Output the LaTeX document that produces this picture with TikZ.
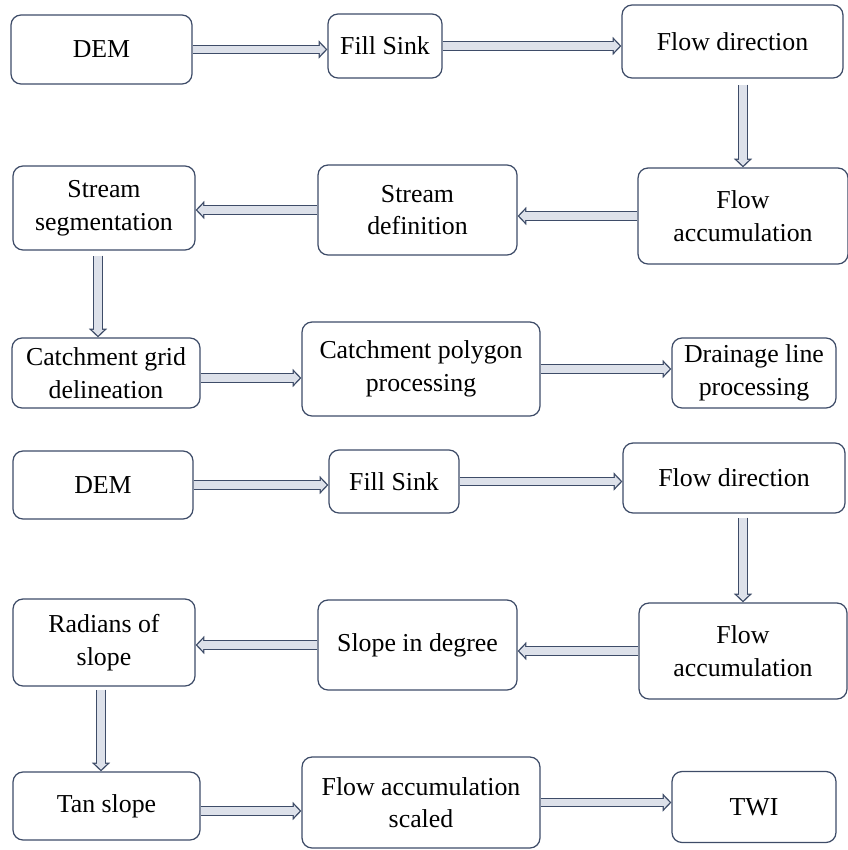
\documentclass[tikz,border=0pt]{standalone}
\usepackage{fontspec}
\setmainfont{Liberation Serif}
\usepackage{xcolor}
\usepackage{tikz}
\usetikzlibrary{arrows.meta,positioning}
\definecolor{boxline}{RGB}{62,76,104}
\definecolor{arrowfill}{RGB}{221,225,234}

\begin{document}
\begin{tikzpicture}[x=0.02cm,y=-0.02cm,
        box/.style={draw=boxline,line width=0.7pt,rounded corners=0.2cm,align=center,inner sep=0pt,
            font=\fontsize{14.7}{18.5}\selectfont},
        flow/.style={draw=boxline,line width=5.6pt,-{Triangle[length=5pt,width=10.5pt,line width=0pt]},
            postaction={draw=arrowfill,line width=4.1pt,-{Triangle[length=3.3pt,width=6.9pt,line width=0pt]},shorten >=1.05pt}}]
        \useasboundingbox (0,0) rectangle (848,850);
        % first chain
        \node[box,minimum width=3.62cm,minimum height=1.38cm] (dem1) at (101.5,49.5) {DEM};
        \node[box,minimum width=2.28cm,minimum height=1.28cm] (sink1) at (385,46) {Fill Sink};
        \node[box,minimum width=4.42cm,minimum height=1.46cm] (dir1) at (732.5,41.5) {Flow direction};
        \node[box,minimum width=4.20cm,minimum height=1.92cm] (acc1) at (743,216) {Flow\\accumulation};
        \node[box,minimum width=3.98cm,minimum height=1.80cm] (sdef) at (417.5,210) {Stream\\definition};
        \node[box,minimum width=3.64cm,minimum height=1.68cm] (sseg) at (104,208) {Stream\\segmentation};
        \node[box,minimum width=3.76cm,minimum height=1.40cm] (cgrid) at (106,373) {Catchment grid\\delineation};
        \node[box,minimum width=4.76cm,minimum height=1.88cm] (cpoly) at (421,369) {Catchment polygon\\processing};
        \node[box,minimum width=3.28cm,minimum height=1.40cm] (dline) at (754,373) {Drainage line\\processing};
        % second chain
        \node[box,minimum width=3.60cm,minimum height=1.36cm] (dem2) at (103,485) {DEM};
        \node[box,minimum width=2.60cm,minimum height=1.26cm] (sink2) at (394,481.5) {Fill Sink};
        \node[box,minimum width=4.44cm,minimum height=1.40cm] (dir2) at (734,478) {Flow direction};
        \node[box,minimum width=4.16cm,minimum height=1.92cm] (acc2) at (743,651) {Flow\\accumulation};
        \node[box,minimum width=3.98cm,minimum height=1.80cm] (sdeg) at (417.5,645) {Slope in degree};
        \node[box,minimum width=3.64cm,minimum height=1.74cm] (rad) at (104,642.5) {Radians of\\slope};
        \node[box,minimum width=3.74cm,minimum height=1.36cm] (tan) at (106.5,806) {Tan slope};
        \node[box,minimum width=4.76cm,minimum height=1.82cm] (fscale) at (421,802.5) {Flow accumulation\\scaled};
        \node[box,minimum width=3.28cm,minimum height=1.42cm] (twi) at (754,807) {TWI};

        \draw[flow] (dem1) -- (dem1 -| sink1.west);
        \draw[flow] (sink1) -- (sink1 -| dir1.west);
        \draw[flow] ([yshift=-0.12cm]dir1.south -| acc1) -- (acc1);
        \draw[flow] (acc1) -- (acc1 -| sdef.east);
        \draw[flow] (sdef) -- (sdef -| sseg.east);
        \draw[flow] ([xshift=-0.12cm,yshift=-0.1cm]sseg.south) -- ([xshift=-0.12cm]sseg.south |- cgrid.north);
        \draw[flow] ([yshift=-0.1cm]cgrid.east) -- ([yshift=-0.1cm]cgrid.east -| cpoly.west);
        \draw[flow] (cpoly) -- (cpoly -| dline.west);

        \draw[flow] (dem2) -- (dem2 -| sink2.west);
        \draw[flow] (sink2) -- (sink2 -| dir2.west);
        \draw[flow] ([yshift=-0.08cm]dir2.south -| acc2) -- (acc2);
        \draw[flow] (acc2) -- (acc2 -| sdeg.east);
        \draw[flow] (sdeg) -- (sdeg -| rad.east);
        \draw[flow] ([xshift=-0.06cm,yshift=-0.06cm]rad.south) -- ([xshift=-0.06cm]rad.south |- tan.north);
        \draw[flow] ([yshift=-0.1cm]tan.east) -- ([yshift=-0.1cm]tan.east -| fscale.west);
        \draw[flow] (fscale) -- (fscale -| twi.west);
    \end{tikzpicture}
\end{document}
